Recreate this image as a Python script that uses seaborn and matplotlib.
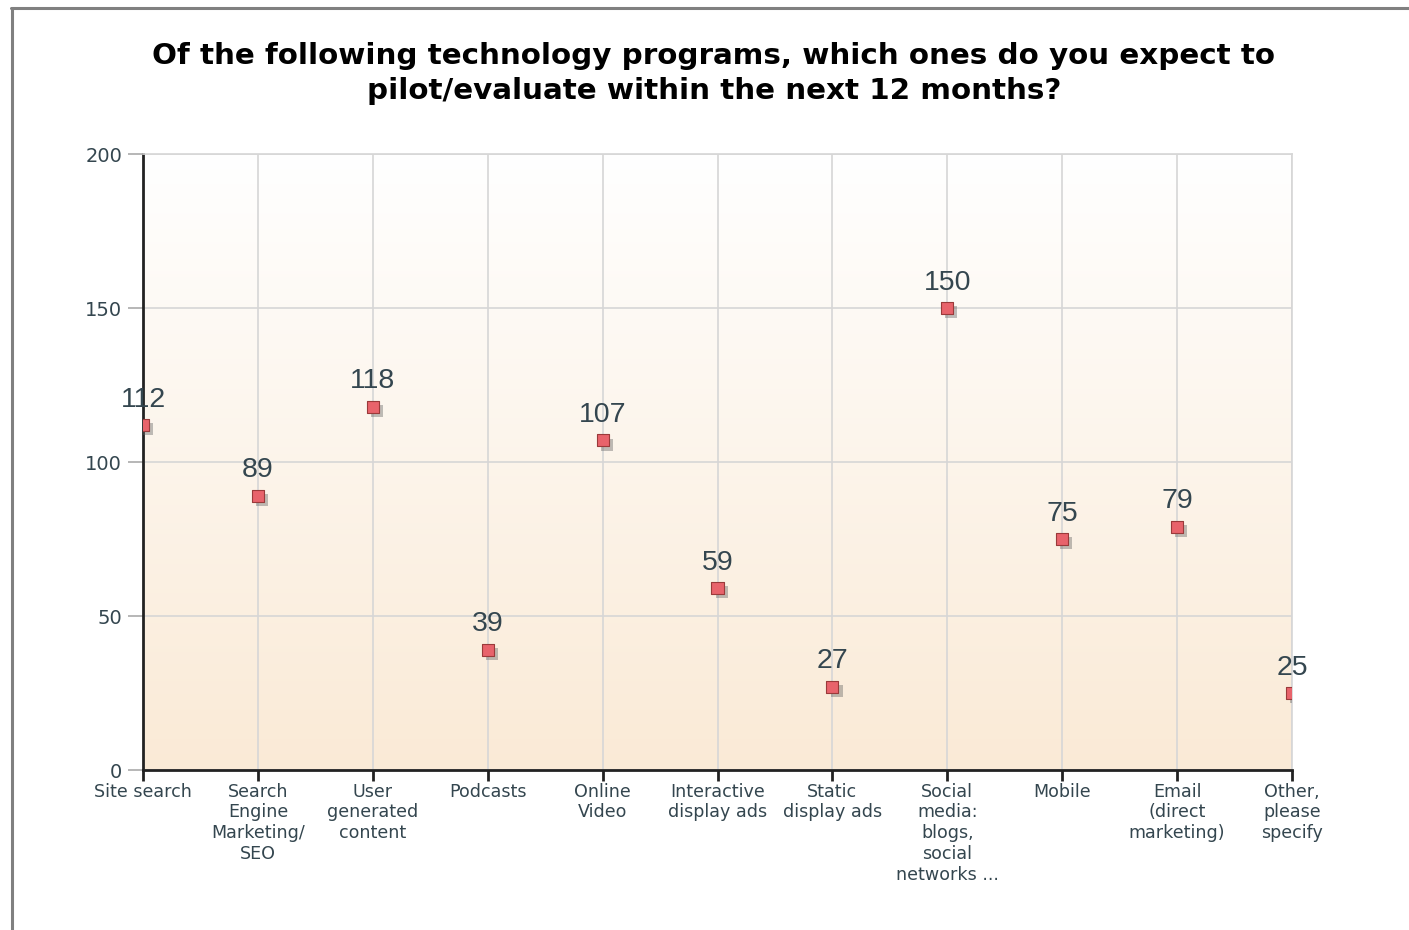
import numpy as np
import pandas as pd
import matplotlib
matplotlib.use("Agg")
import matplotlib.pyplot as plt
import matplotlib.patheffects as pe
from matplotlib.colors import LinearSegmentedColormap
import seaborn as sns

categories = [
    "Site search",
    "Search\nEngine\nMarketing/\nSEO",
    "User\ngenerated\ncontent",
    "Podcasts",
    "Online\nVideo",
    "Interactive\ndisplay ads",
    "Static\ndisplay ads",
    "Social\nmedia:\nblogs,\nsocial\nnetworks ...",
    "Mobile",
    "Email\n(direct\nmarketing)",
    "Other,\nplease\nspecify",
]
values = [112, 89, 118, 39, 107, 59, 27, 150, 75, 79, 25]
y_ticks = [0, 50, 100, 150, 200]
title = "Of the following technology programs, which ones do you expect to\npilot/evaluate within the next 12 months?"

sns.set_theme(style="white")
plt.rcParams["font.family"] = ["Liberation Sans", "DejaVu Sans"]

W, H = 1409, 930
fig = plt.figure(figsize=(W / 100, H / 100), dpi=100)
fig.patch.set_facecolor("white")

# outer frame
fig.add_artist(plt.Line2D([12 / W, 12 / W], [0, 1 - 8 / H], transform=fig.transFigure,
                          color="#808080", lw=2.2))
fig.add_artist(plt.Line2D([11 / W, 1], [1 - 8.5 / H, 1 - 8.5 / H], transform=fig.transFigure,
                          color="#808080", lw=2.2))

left, right = 143 / W, 1292 / W
bottom, top = 1 - 770 / H, 1 - 154 / H
ax = fig.add_axes([left, bottom, right - left, top - bottom])

df = pd.DataFrame({"cat": categories, "val": values})
df["x"] = np.arange(len(categories))

# gradient background
grad = np.linspace(0, 1, 256).reshape(-1, 1)
cmap = LinearSegmentedColormap.from_list("bg", ["#FAEAD6", "#FFFFFF"])
ax.imshow(grad, aspect="auto", cmap=cmap, origin="lower",
          extent=[0, len(categories) - 1, 0, 200], zorder=0)

ax.set_xlim(0, len(categories) - 1)
ax.set_ylim(0, 200)

sns.scatterplot(data=df, x="x", y="val", marker="s", s=75, color="#E8636B",
                edgecolor="#9A3A3A", linewidth=0.8, ax=ax, zorder=5, legend=False)
ax.collections[-1].set_path_effects([
    pe.SimplePatchShadow(offset=(3, -3), shadow_rgbFace="#606060", alpha=0.4),
    pe.Normal(),
])

for xi, v in zip(df["x"], df["val"]):
    ax.annotate(str(v), (xi, v), xytext=(0, 9), textcoords="offset points",
                ha="center", va="bottom", fontsize=20.5, color="#34464F", zorder=6)

ax.set_xticks(df["x"])
ax.set_xticklabels(categories, fontsize=12.6, color="#34464F", linespacing=1.2,
                   family="DejaVu Sans")
ax.set_yticks(y_ticks)
ax.set_yticklabels([str(t) for t in y_ticks], fontsize=14, color="#34464F",
                   family="DejaVu Sans")

ax.grid(True, color="#D6D6D6", lw=1.2, zorder=1)
ax.set_axisbelow(True)

ax.tick_params(axis="x", direction="out", length=8, width=2, color="#222222", pad=1,
               bottom=True)
ax.tick_params(axis="y", direction="out", length=11, width=1.2, color="#AAAAAA", pad=4,
               left=True)

for side in ["top", "right"]:
    ax.spines[side].set_visible(True)
    ax.spines[side].set_color("#D6D6D6")
    ax.spines[side].set_linewidth(1.2)
ax.spines["left"].set_color("#222222")
ax.spines["left"].set_linewidth(2)
ax.spines["bottom"].set_color("#222222")
ax.spines["bottom"].set_linewidth(2)
for s in ax.spines.values():
    s.set_zorder(3)
ax.set_xlabel("")
ax.set_ylabel("")

fig.text((150 + 1278) / 2 / W, 1 - 73.5 / H, title, ha="center", va="center",
         fontsize=21.2, fontweight="bold", color="black", linespacing=1.32,
         family="DejaVu Sans")

fig.savefig("out.png", dpi=100, facecolor="white")
